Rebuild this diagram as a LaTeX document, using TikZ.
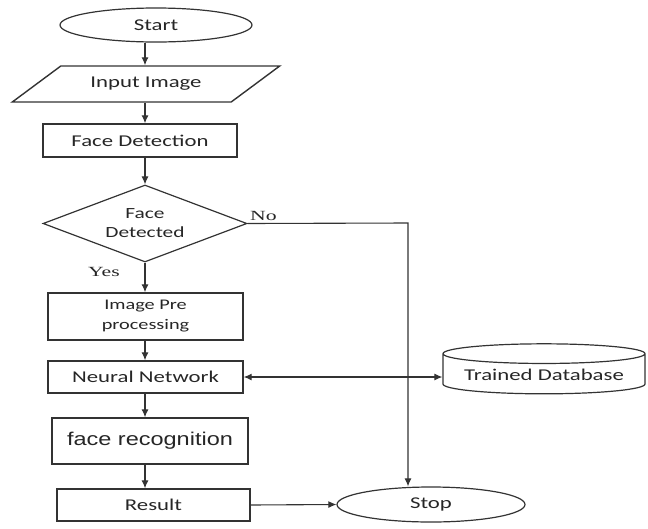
\documentclass[tikz,border=0pt]{standalone}
\usepackage{fontspec}
\usepackage{tikz}
\usetikzlibrary{arrows.meta,shapes.geometric}
\newfontfamily\calib[FakeStretch=1.38]{Carlito}
\newfontfamily\arialw[FakeStretch=1.27]{Liberation Sans}
\newfontfamily\timesw[FakeStretch=1.55]{Liberation Serif}

\begin{document}
\begin{tikzpicture}[x=1pt, y=-1pt, >={Latex[length=8pt,width=7pt]},
        every node/.style={text=black!85, inner sep=2pt},
        line width=1.1pt, draw=black!80]
      \tikzstyle{box} = [draw, rectangle, line width=1.4pt, align=center,
        font=\calib\fontsize{16.5}{20}\selectfont]
      \tikzstyle{term} = [draw, ellipse, line width=1.2pt,
        font=\calib\fontsize{16.5}{20}\selectfont]
      \tikzstyle{lab} = [font=\timesw\fontsize{14}{16}\selectfont]
      \useasboundingbox (0,0) rectangle (648,528);
      \coordinate (axis) at (145,0);
      \coordinate (turn) at (408,223);
      \node (start) [term, minimum width=192pt, minimum height=34pt] at (156,25) {Start};
      \node (input) [box, trapezium, trapezium left angle=28, trapezium right angle=152,
        trapezium stretches=true, minimum width=268pt, minimum height=36pt] at (146,84) {Input Image};
      \node (detect) [box, minimum width=194pt, minimum height=33pt] at (140,140.5) {Face Detection};
      \node (found) [box, diamond, shape aspect=2.65, line width=1.2pt, minimum width=204pt,
        minimum height=77pt, font=\calib\fontsize{15.5}{19}\selectfont, inner sep=0pt]
        at (145,223.5) {Face\\Detected};
      \node (prep) [box, minimum width=195pt, minimum height=47pt,
        font=\calib\fontsize{14.7}{20}\selectfont] at (145.5,316.5) {Image Pre\\processing};
      \node (net) [box, minimum width=195pt, minimum height=32pt] at (145.5,377) {Neural Network};
      \node (recog) [box, minimum width=196pt, minimum height=46pt,
        font=\arialw\fontsize{18.5}{22}\selectfont] at (150,441) {face recognition};
      \node (result) [box, minimum width=193pt, minimum height=32pt] at (153.5,505) {Result};
      \node (stop) [term, minimum width=188pt, minimum height=35pt] at (431,504.5) {Stop};
      \node (db) [box, cylinder, shape border rotate=90, aspect=0.12, line width=1.2pt,
        minimum width=202pt, minimum height=50pt] at (544,375) {Trained Database};
      \draw[->] (start.south -| axis) -- (input.north -| axis);
      \draw[->] (input.south -| axis) -- (detect.north -| axis);
      \draw[->] (detect.south -| axis) -- (found.north);
      \draw[->] (found.south) -- (prep.north -| axis);
      \draw[->] (prep.south -| axis) -- (net.north -| axis);
      \draw[->] (net.south -| axis) -- (recog.north -| axis);
      \draw[->] (recog.south -| axis) -- (result.north -| axis);
      \draw[->] (found.east) -- (turn) -- (stop.north -| turn);
      \draw[<->] (net.east) -- (net.east -| db.west);
      \draw[->] (result.east) -- (stop.west);
      \node (no) [lab, anchor=south west] at (found.east) {No};
      \node (yes) [lab] at (104,272) {Yes};
    \end{tikzpicture}
\end{document}
